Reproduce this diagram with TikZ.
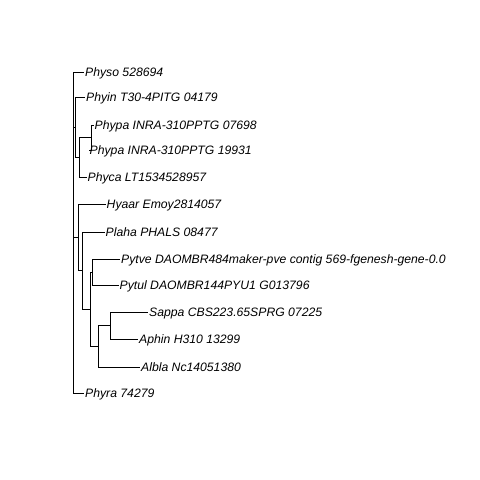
\documentclass[tikz,border=0pt]{standalone}
\usepackage{fontspec}
\setmainfont{Liberation Sans}
\usetikzlibrary{positioning}

\begin{document}
\begin{tikzpicture}[x=1pt,y=-1pt,node distance=1pt,
  leaf/.style={inner sep=0pt,text height=8.7pt,text depth=0pt,font=\itshape\fontsize{12.2}{12.2}\selectfont},
  branch/.style={line width=0.6pt,black}]
\useasboundingbox (0,0) rectangle (480,480);

% inner nodes of the tree
\coordinate (root)   at (73,232.5);
\coordinate (phyt)   at (75.5,127.5);
\coordinate (phyca2) at (79.5,157.25);
\coordinate (phypa)  at (91,137.5);
\coordinate (hyaar)  at (78,237.75);
\coordinate (plaha)  at (82,270.5);
\coordinate (pyth)   at (90,309);
\coordinate (pyt)    at (92,272);
\coordinate (albla)  at (98,346);
\coordinate (sappa)  at (110,325.5);

% tips
\coordinate (t1)  at (84,72);
\coordinate (t2)  at (85,97);
\coordinate (t3)  at (93.5,125);
\coordinate (t4)  at (88.5,150);
\coordinate (t5)  at (86.5,177);
\coordinate (t6)  at (105.5,204.5);
\coordinate (t7)  at (104.5,232);
\coordinate (t8)  at (120,259);
\coordinate (t9)  at (118.5,285);
\coordinate (t10) at (148,312);
\coordinate (t11) at (138,339);
\coordinate (t12) at (140,367);
\coordinate (t13) at (84,393);

\node[leaf,right=of t1]  (physo)  {Physo 528694};
\node[leaf,right=of t2]  (phyin)  {Phyin T30-4PITG 04179};
\node[leaf,right=of t3]  (phypaa) {Phypa INRA-310PPTG 07698};
\node[leaf,right=of t4]  (phypab) {Phypa INRA-310PPTG 19931};
\node[leaf,right=of t5]  (phyca)  {Phyca LT1534528957};
\node[leaf,right=of t6]  (hyaarl) {Hyaar Emoy2814057};
\node[leaf,right=of t7]  (plahal) {Plaha PHALS 08477};
\node[leaf,right=of t8]  (pytve)  {Pytve DAOMBR484maker-pve contig 569-fgenesh-gene-0.0};
\node[leaf,right=of t9]  (pytul)  {Pytul DAOMBR144PYU1 G013796};
\node[leaf,right=of t10] (sappal) {Sappa CBS223.65SPRG 07225};
\node[leaf,right=of t11] (aphin)  {Aphin H310 13299};
\node[leaf,right=of t12] (alblal) {Albla Nc14051380};
\node[leaf,right=of t13] (phyra)  {Phyra 74279};

\draw[branch] (root) |- (t1) (root) |- (t13)
  (root) |- (phyt) (root) |- (hyaar);
\draw[branch] (phyt) |- (t2) (phyt) |- (phyca2);
\draw[branch] (phyca2) |- (phypa) (phyca2) |- (t5);
\draw[branch] (phypa) |- (t3) (phypa) |- (t4);
\draw[branch] (hyaar) |- (t6) (hyaar) |- (plaha);
\draw[branch] (plaha) |- (t7) (plaha) |- (pyth);
\draw[branch] (pyth) |- (pyt) (pyth) |- (albla);
\draw[branch] (pyt) |- (t8) (pyt) |- (t9);
\draw[branch] (albla) |- (sappa) (albla) |- (t12);
\draw[branch] (sappa) |- (t10) (sappa) |- (t11);
\end{tikzpicture}
\end{document}
